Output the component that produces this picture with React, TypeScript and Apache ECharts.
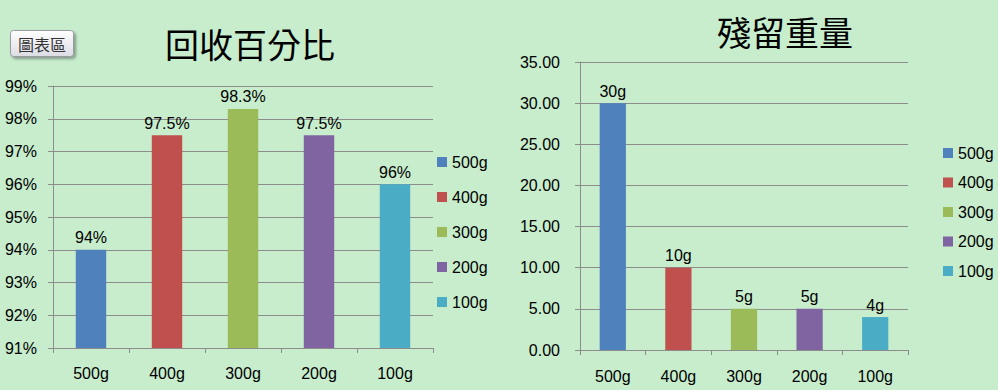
import React, { useEffect, useRef } from "react";
import * as echarts from "echarts";

const categories = ["500g", "400g", "300g", "200g", "100g"];
const recoveryPct = [94, 97.5, 98.3, 97.5, 96];
const residueWeight = [30, 10, 5, 5, 4];
const colors = ["#4F81BD", "#C0504D", "#9BBB59", "#8064A2", "#4BACC6"];
const leftTitle = "回收百分比";
const rightTitle = "殘留重量";
const buttonText = "圖表區";

const FONT = "'Liberation Sans', Arial, sans-serif";
const CJK = "'Noto Sans CJK TC', 'Noto Sans CJK SC', sans-serif";
const GRID_COLOR = "#8C8C8C";

function makeSeries(values: number[], gridIdx: number, fmt: (v: number) => string) {
  return categories.map((name, i) => ({
    type: "bar",
    name,
    xAxisIndex: gridIdx,
    yAxisIndex: gridIdx,
    stack: "s" + gridIdx,
    barWidth: "40%",
    itemStyle: { color: colors[i] },
    label: {
      show: true,
      position: "top",
      distance: 4,
      color: "#000",
      fontFamily: FONT,
      fontSize: 16,
      formatter: (p: any) => fmt(p.value),
    },
    data: categories.map((_, j) => (j === i ? values[i] : "-")),
  }));
}

export default function App() {
  const ref = useRef<HTMLDivElement>(null);
  useEffect(() => {
    document.body.style.margin = "0";
    const chart = echarts.init(ref.current!, undefined, { renderer: "svg" });
    const xAxisCommon = {
      type: "category",
      data: categories,
      axisLine: { lineStyle: { color: GRID_COLOR } },
      axisTick: { show: true, length: 5, lineStyle: { color: GRID_COLOR } },
      axisLabel: { color: "#000", fontFamily: FONT, fontSize: 16 },
    };
    const yAxisCommon = {
      type: "value",
      axisLine: { show: true, lineStyle: { color: GRID_COLOR } },
      axisTick: { show: true, length: 5, lineStyle: { color: GRID_COLOR } },
      splitLine: { lineStyle: { color: GRID_COLOR } },
      axisLabel: { color: "#000", fontFamily: FONT, fontSize: 16 },
    };
    const legendCommon = {
      orient: "vertical",
      icon: "rect",
      itemWidth: 10,
      itemHeight: 10,
      textStyle: { color: "#000", fontFamily: FONT, fontSize: 16 },
      selectedMode: false,
    };
    chart.setOption({
      animation: false,
      backgroundColor: "#C7EDCD",
      grid: [
        { left: 53, right: 565, top: 86, bottom: 42 },
        { left: 580, right: 90, top: 62, bottom: 40 },
      ],
      xAxis: [
        { ...xAxisCommon, gridIndex: 0, axisLabel: { ...xAxisCommon.axisLabel, margin: 17 } },
        { ...xAxisCommon, gridIndex: 1, axisLabel: { ...xAxisCommon.axisLabel, margin: 18 } },
      ],
      yAxis: [
        {
          ...yAxisCommon,
          gridIndex: 0,
          min: 91,
          max: 99,
          interval: 1,
          axisLabel: { ...yAxisCommon.axisLabel, margin: 16, formatter: (v: number) => v + "%" },
        },
        {
          ...yAxisCommon,
          gridIndex: 1,
          min: 0,
          max: 35,
          interval: 5,
          axisLabel: { ...yAxisCommon.axisLabel, margin: 20, formatter: (v: number) => v.toFixed(2) },
        },
      ],
      legend: [
        { ...legendCommon, left: 432, top: 149, itemGap: 19, data: categories },
        { ...legendCommon, left: 938, top: 140, itemGap: 13.5, data: categories },
      ],
      title: [
        {
          text: leftTitle,
          left: 245,
          top: 21,
          textAlign: "center",
          textStyle: { fontFamily: CJK, fontSize: 34, fontWeight: "normal", color: "#000" },
        },
        {
          text: rightTitle,
          left: 780,
          top: 9,
          textAlign: "center",
          textStyle: { fontFamily: CJK, fontSize: 34, fontWeight: "normal", color: "#000" },
        },
      ],
      graphic: [
        {
          type: "group",
          left: 10,
          top: 30,
          children: [
            {
              type: "rect",
              shape: { x: 0, y: 0, width: 63, height: 26, r: 3 },
              style: {
                fill: new echarts.graphic.LinearGradient(0, 0, 0, 1, [
                  { offset: 0, color: "#FFFFFF" },
                  { offset: 1, color: "#DCDCE4" },
                ]),
                stroke: "#9A9AA0",
                lineWidth: 1,
                shadowBlur: 3,
                shadowOffsetX: 2,
                shadowOffsetY: 2,
                shadowColor: "rgba(0,0,0,0.35)",
              },
            },
            {
              type: "text",
              style: {
                text: buttonText,
                x: 31.5,
                y: 13,
                align: "center",
                verticalAlign: "middle",
                fontFamily: CJK,
                fontSize: 16,
                fill: "#333",
              },
            },
          ],
        },
      ],
      series: [
        ...makeSeries(recoveryPct, 0, (v) => v + "%"),
        ...makeSeries(residueWeight, 1, (v) => v + "g"),
      ],
    });
    return () => chart.dispose();
  }, []);
  return <div ref={ref} style={{ width: 998, height: 390 }} />;
}
